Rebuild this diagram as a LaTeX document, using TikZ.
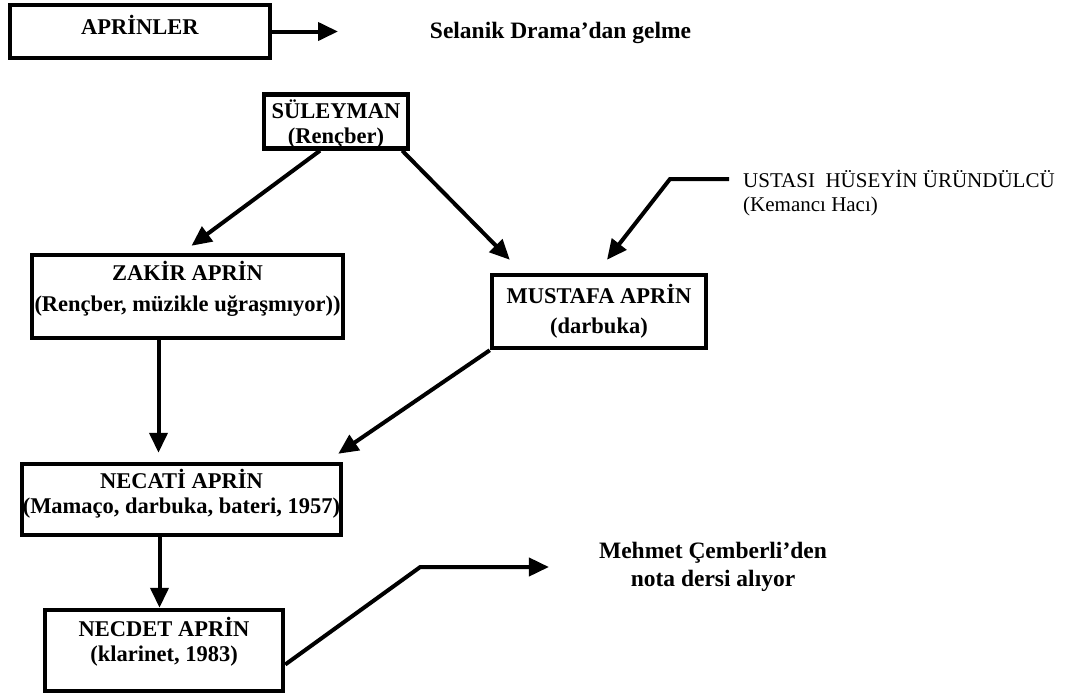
\documentclass[tikz,border=0pt]{standalone}
\usepackage{fontspec}
\setmainfont{Liberation Serif}
\usetikzlibrary{calc,arrows.meta}

\begin{document}
\begin{tikzpicture}[x=1pt,y=-1pt,
    kutu/.style={draw,line width=4.5pt,inner sep=0pt,align=center,font=\fontsize{22.5}{25}\selectfont\bfseries},
    yazi/.style={inner sep=0pt,align=center,font=\fontsize{23.5}{28}\selectfont\bfseries},
    ok/.style={line width=4pt,-{Triangle[length=20pt,width=18pt]}}]
    \useasboundingbox (0,0) rectangle (1066,694);
    % kutular
    \node (aprinler) at (140,31.5) [kutu,minimum width=260pt,minimum height=53pt,text depth=13pt]{APRİNLER};
    \node (selanik) at (560.5,33) [yazi]{Selanik Drama'dan gelme};
    \coordinate (selanikucu) at (338,31.5);
    \node (suleyman) at (336,121.5) [kutu,minimum width=144pt,minimum height=53pt,text height=49pt]{SÜLEYMAN\\(Rençber)};
    \node (zakir) at (187.5,296.5) [kutu,minimum width=311pt,minimum height=83pt,text depth=20pt,font=\fontsize{22.5}{31}\selectfont\bfseries]{ZAKİR APRİN\\(Rençber, müzikle uğraşmıyor))};
    \node (mustafa) at (599,311.5) [kutu,minimum width=214pt,minimum height=73pt,font=\fontsize{22.5}{30}\selectfont\bfseries]{MUSTAFA APRİN\\(darbuka)};
    \node (ustasi) at (743,170) [anchor=north west,inner sep=0pt,align=left,font=\fontsize{21}{24}\selectfont]{USTASI\ \ HÜSEYİN ÜRÜNDÜLCÜ\\(Kemancı Hacı)};
    \node (necati) at (181.5,499.5) [kutu,minimum width=319pt,minimum height=71pt,text depth=16pt]{NECATİ APRİN\\(Mamaço, darbuka, bateri, 1957)};
    \node (necdet) at (164,650.5) [kutu,minimum width=238pt,minimum height=81pt,text depth=23pt]{NECDET APRİN\\(klarinet, 1983)};
    \node (mehmet) at (713,567) [yazi]{Mehmet Çemberli'den\\nota dersi alıyor};
    % oklar
    \draw[ok] (aprinler.east) -- (selanikucu);
    \draw[ok] ($(suleyman.south)+(-16,0)$) -- ($(zakir.north)+(4,-7)$);
    \draw[ok] ($(suleyman.south east)+(-8,0)$) -- ($(mustafa.north west)+(20,-13)$);
    \draw[ok] ($(ustasi.north west)+(-14,9)$) -- ++(-59,0) -- ($(mustafa.north)+(8,-13)$);
    \draw[ok] ($(zakir.south)+(-29,0)$) -- ($(necati.north)+(-23,-9)$);
    \draw[ok] (mustafa.south west) -- ($(necati.north east)+(-5,-8)$);
    \draw[ok] ($(necati.south)+(-22,0)$) -- ($(necdet.north)+(-4.5,0)$);
    \draw[ok] ($(necdet.east)+(0,14)$) -- ++(135,-97.5) -- ($(mehmet.west)+(-50,0)$);
\end{tikzpicture}
\end{document}
